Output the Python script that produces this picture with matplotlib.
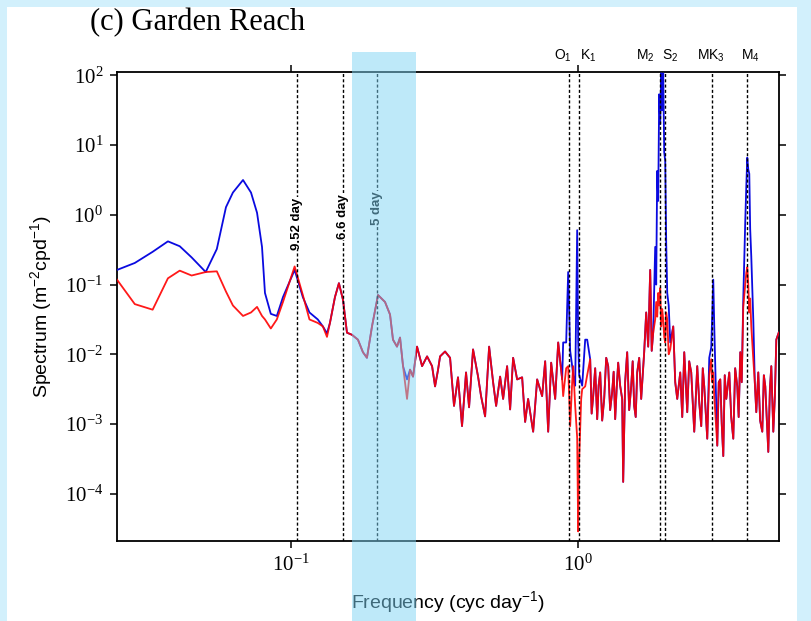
import numpy as np
import matplotlib.pyplot as plt
import matplotlib.ticker as mticker
from matplotlib.patches import Rectangle
from matplotlib.transforms import blended_transform_factory

plt.rcParams['font.family'] = 'Liberation Serif'

# frequency (cycles per day)
freq = np.array([
    0.0248, 0.0286, 0.0330, 0.0373, 0.0410, 0.0451, 0.0505, 0.0552, 0.0594, 0.0628,
    0.0681, 0.0726, 0.0762, 0.0793, 0.0812, 0.0851, 0.0893, 0.0938, 0.103, 0.110,
    0.116, 0.124,
    0.1292, 0.1335, 0.1367, 0.1423, 0.1469, 0.1518, 0.1567, 0.1631, 0.1711, 0.1781,
    0.1839, 0.1915, 0.2010, 0.2126, 0.2213, 0.2266, 0.2340, 0.2398, 0.2456, 0.2536,
    0.2598, 0.2661, 0.2748, 0.2861, 0.2978, 0.3100, 0.3175, 0.3252,
    0.3305, 0.3440, 0.3581, 0.3696, 0.3816, 0.3941, 0.4070, 0.4170, 0.4305, 0.4482,
    0.4591, 0.4742, 0.4897, 0.5056, 0.5180, 0.5349, 0.5479, 0.5657, 0.5795, 0.5936,
    0.6130, 0.6381, 0.6536, 0.6694, 0.6970, 0.7197, 0.7490, 0.7674, 0.7862, 0.8053,
    0.8316, 0.8519,
    0.8795, 0.8866, 0.9082, 0.9229, 0.9378, 0.9530, 0.9607, 0.9762, 0.9920, 1.0000,
    1.0081, 1.0244, 1.0326, 1.0578, 1.0748, 1.1010, 1.114, 1.1279, 1.146, 1.1646,
    1.178, 1.1929, 1.212, 1.2317, 1.252, 1.2719, 1.292, 1.3133, 1.329, 1.3453,
    1.361, 1.3780, 1.400, 1.4229, 1.4344, 1.457, 1.4811, 1.505, 1.5294, 1.548,
    1.5666, 1.586, 1.6048, 1.631, 1.6571, 1.677, 1.6974, 1.7249, 1.7528, 1.7812,
    1.803, 1.8245, 1.8541, 1.869, 1.8841, 1.8993, 1.9146, 1.930, 1.9456, 1.961,
    1.9772, 1.993, 2.0092, 2.025, 2.0418, 2.066, 2.0916, 2.1426, 2.177, 2.2123,
    2.2662, 2.303, 2.3400, 2.3971, 2.435, 2.4750, 2.5353, 2.5971, 2.64, 2.6817,
    2.715, 2.7471, 2.8141, 2.8597, 2.9060, 2.9294, 2.9530, 2.9768, 3.0494, 3.086,
    3.1237, 3.161, 3.1999, 3.238, 3.2779, 3.3578, 3.41, 3.4670, 3.52, 3.5797,
    3.62, 3.6670, 3.71, 3.7564, 3.8171, 3.8479, 3.8789, 3.9102, 3.9417, 3.97,
    4.0055, 4.0702, 4.12, 4.1694, 4.2367, 4.30, 4.3747, 4.43, 4.4813, 4.5906,
    4.65, 4.7025, 4.7785, 4.84, 4.8950, 4.9900,
])

# log10 spectrum, full water level record (blue)
log_total = np.array([
    -0.79, -0.69, -0.53, -0.38, -0.45, -0.61, -0.82, -0.49, 0.11, 0.32,
    0.50, 0.32, 0.03, -0.46, -1.12, -1.42, -1.45, -1.18, -0.79, -1.18,
    -1.40, -1.50,
    -1.60, -1.70, -1.55, -1.18, -0.98, -1.22, -1.69, -1.72, -1.79, -1.97,
    -2.05, -1.60, -1.15, -1.25, -1.43, -1.79, -1.89, -1.76, -2.17, -2.36,
    -2.22, -2.32, -1.89, -2.17, -2.03, -2.17, -2.46, -2.22,
    -2.03, -1.96, -2.05, -2.74, -2.33, -3.03, -2.26, -2.76, -1.93, -2.32,
    -2.60, -2.89, -1.89, -2.40, -2.74, -2.32, -2.64, -2.17, -2.79, -2.05,
    -2.36, -2.33, -2.97, -2.64, -3.11, -2.36, -2.60, -2.10, -3.11, -2.12,
    -2.64, -1.83,
    -2.36, -1.83, -1.83, -0.82, -1.95, -2.17, -2.30, -2.45, -0.22, -1.80,
    -2.30, -2.40, -2.45, -1.79, -1.79, -2.07, -2.85, -2.60, -2.20, -2.93,
    -2.45, -2.26, -2.95, -2.64, -2.05, -2.17, -2.80, -2.54, -2.25, -2.93,
    -2.50, -2.12, -2.45, -2.64, -3.83, -2.40, -1.97, -2.80, -2.46, -2.10,
    -2.74, -2.90, -2.26, -2.05, -2.64, -2.30, -1.97, -1.40, -1.89, -0.79,
    -1.95, -1.69, -0.46, -1.00, 0.63, 0.20, 1.73, 1.30, 2.03, 1.50,
    2.03, 0.90, 0.77, -0.40, -1.12, -1.30, -1.83, -1.60, -2.40, -2.64,
    -2.26, -2.90, -1.97, -2.83, -2.10, -2.26, -3.11, -2.17, -2.70, -3.03,
    -2.20, -2.46, -3.21, -2.05, -1.90, -1.40, -0.93, -1.60, -3.31, -2.40,
    -2.36, -3.00, -3.46, -2.30, -2.64, -2.26, -2.90, -3.21, -2.20, -2.46,
    -2.90, -1.97, -2.40, -1.20, -0.08, 0.40, 0.82, 0.65, 0.59, -0.20,
    -0.60, -1.50, -2.40, -2.83, -2.26, -2.95, -3.11, -2.30, -2.46, -3.40,
    -2.50, -2.17, -3.11, -2.60, -1.79, -1.69,
])

# log10 spectrum, de-tided residual (red)
log_resid = np.array([
    -0.93, -1.28, -1.36, -0.91, -0.80, -0.87, -0.82, -0.81, -1.10, -1.30,
    -1.45, -1.40, -1.32, -1.45, -1.50, -1.63, -1.50, -1.25, -0.74, -1.15,
    -1.50, -1.55,
    -1.60, -1.75, -1.55, -1.18, -0.98, -1.22, -1.69, -1.72, -1.79, -1.97,
    -2.05, -1.60, -1.15, -1.25, -1.43, -1.79, -1.89, -1.76, -2.17, -2.64,
    -2.22, -2.32, -1.89, -2.17, -2.03, -2.17, -2.46, -2.22,
    -2.03, -1.96, -2.05, -2.74, -2.33, -3.03, -2.26, -2.76, -1.93, -2.32,
    -2.60, -2.89, -1.89, -2.40, -2.74, -2.32, -2.64, -2.17, -2.79, -2.05,
    -2.36, -2.33, -2.97, -2.64, -3.11, -2.36, -2.60, -2.10, -3.11, -2.12,
    -2.64, -1.83,
    -2.36, -2.60, -2.20, -2.17, -3.03, -2.40, -2.17, -2.74, -3.20, -4.54,
    -3.50, -2.64, -2.50, -2.46, -2.30, -2.07, -2.85, -2.60, -2.20, -2.93,
    -2.45, -2.26, -2.95, -2.64, -2.05, -2.17, -2.80, -2.54, -2.25, -2.93,
    -2.50, -2.12, -2.45, -2.64, -3.83, -2.40, -1.97, -2.80, -2.46, -2.10,
    -2.74, -2.90, -2.26, -2.05, -2.64, -2.30, -1.97, -1.40, -1.89, -0.79,
    -1.95, -1.69, -1.50, -1.25, -1.46, -1.12, -1.30, -1.05, -1.60, -1.35,
    -1.50, -1.75, -1.83, -1.40, -1.50, -2.00, -1.93, -1.60, -2.40, -2.64,
    -2.26, -2.90, -1.97, -2.83, -2.10, -2.26, -3.11, -2.17, -2.70, -3.03,
    -2.20, -2.46, -3.21, -2.30, -2.07, -2.40, -2.26, -2.60, -3.31, -2.40,
    -2.36, -3.00, -3.46, -2.30, -2.64, -2.26, -2.90, -3.21, -2.20, -2.46,
    -2.90, -1.97, -2.40, -1.32, -1.00, -0.83, -0.75, -1.00, -1.40, -1.20,
    -1.60, -2.07, -2.40, -2.83, -2.26, -2.95, -3.11, -2.30, -2.46, -3.40,
    -2.50, -2.17, -3.11, -2.60, -1.79, -1.69,
])

# tidal constituents (cpd)
tide_names = [r'$\mathregular{O_1}$', r'$\mathregular{K_1}$', r'$\mathregular{M_2}$',
              r'$\mathregular{S_2}$', r'$\mathregular{MK_3}$', r'$\mathregular{M_4}$']
tide_freq = [0.9295, 1.0027, 1.9323, 2.0000, 2.9350, 3.8640]
tide_label_x = [0.887, 1.083, 1.712, 2.09, 2.906, 3.97]

# marked periods (days)
periods = [9.52, 6.6, 5]
period_labels = ['9.52 day', '6.6 day', '5 day']
period_label_y = [0.75, 0.95, 1.23]

fig = plt.figure(figsize=(8.12, 6.21), dpi=100)
fig.patch.set_facecolor('#d2f0fc')
fig.add_artist(Rectangle((7 / 812, 0), 790 / 812, 614 / 621, transform=fig.transFigure,
                         facecolor='white', edgecolor='none', zorder=-5))

ax = fig.add_axes([0.1441, 0.1288, 0.8152, 0.7553])
ax.set_xscale('log')
ax.set_yscale('log')

ax.plot(freq, 10 ** log_total, color='#0a0ae0', lw=1.3, zorder=3)
ax.plot(freq, 10 ** log_resid, color='#ff0000', lw=1.3, alpha=0.9, zorder=4)

dash = (0, (2.2, 1.6))
for f in tide_freq:
    ax.axvline(f, color='black', lw=1.0, linestyle=dash, zorder=5)
for p in periods:
    ax.axvline(1.0 / p, color='black', lw=1.0, linestyle=dash, zorder=5)

sans = 'Liberation Sans'
for p, lab, y in zip(periods, period_labels, period_label_y):
    ax.text(1.0 / p, y, lab, rotation=90, ha='center', va='center', family=sans,
            fontsize=9.5, fontweight='bold', zorder=6,
            bbox=dict(facecolor='white', edgecolor='none', pad=0.6))

top = blended_transform_factory(ax.transData, ax.transAxes)
for name, x in zip(tide_names, tide_label_x):
    ax.text(x, 1.035, name, transform=top, ha='center', va='center',
            family=sans, fontsize=10)

ax.set_xlim(0.0248, 5.0)
ax.set_ylim(2.1e-5, 112)
ax.xaxis.set_major_locator(mticker.FixedLocator([0.1, 1.0]))
ax.yaxis.set_major_locator(mticker.FixedLocator([1e-4, 1e-3, 1e-2, 1e-1, 1e0, 1e1, 1e2]))
ax.xaxis.set_minor_locator(mticker.NullLocator())
ax.yaxis.set_minor_locator(mticker.NullLocator())
ax.tick_params(direction='out', length=5, width=1.1, top=True, right=True,
               labelsize=15, pad=5)
for s in ax.spines.values():
    s.set_linewidth(1.3)

ax.set_xlabel(r'Frequency (cyc day$\mathregular{^{-1}}$)', family=sans, fontsize=14, labelpad=9)
ax.set_ylabel(r'Spectrum (m$\mathregular{^{-2}}$cpd$\mathregular{^{-1}}$)', family=sans,
              fontsize=14, labelpad=8)

fig.text(0.111, 0.964, '(c) Garden Reach', family='Liberation Serif', fontsize=22,
         ha='left', va='center')

# highlighted 4-6 day band, drawn over the whole lower figure
band = blended_transform_factory(ax.transData, fig.transFigure)
fig.add_artist(Rectangle((0.163, 0), 0.273 - 0.163, 1 - 52 / 621, transform=band,
                         facecolor='#7fd4f5', edgecolor='none', alpha=0.5, zorder=10))

fig.savefig('out.png', dpi=100)
